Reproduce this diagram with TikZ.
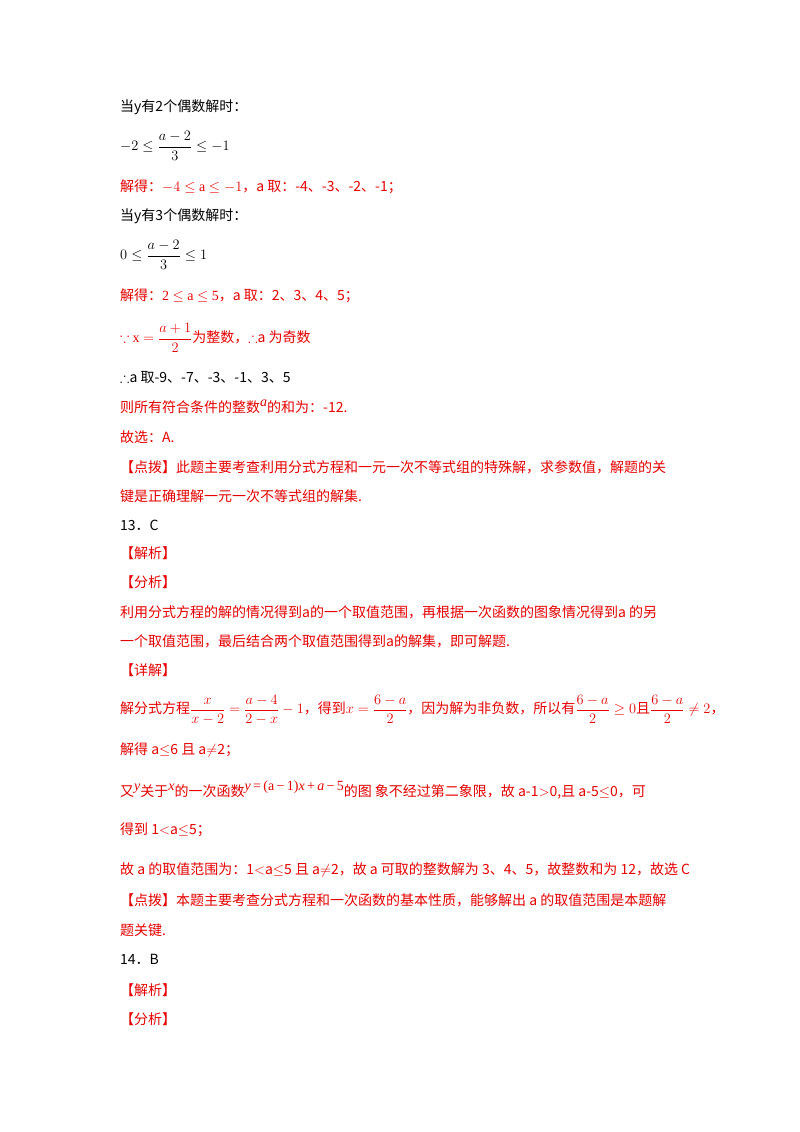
\documentclass[tikz,border=0pt]{standalone}
\usepackage{amsmath,amssymb}
\usepackage{fontspec}
\setmainfont{Liberation Serif}
\newfontfamily\cjk{Noto Sans CJK SC}
\definecolor{rd}{RGB}{230,0,0}
\newcommand{\up}[1]{\raisebox{6pt}{\fontsize{14}{15}\selectfont\rmfamily #1}}
\begin{document}
\begin{tikzpicture}[x=1pt,y=-1pt,
  t/.style={anchor=west,inner sep=0pt,font=\fontsize{14}{17}\selectfont\cjk},
  r/.style={t,text=rd}]
\fill[white] (0,0) rectangle (800,1132);
\node[t] (l1) at (120,107) {当y有2个偶数解时：};
\node[t] (l2) at (120,146) {$-2\le\dfrac{a-2}{3}\le-1$};
\node[r] (l3) at (120,187) {解得：\rmfamily$-4\le$ a $\le-1$\cjk，a 取：-4、-3、-2、-1；};
\node[t] (l4) at (120,216) {当y有3个偶数解时：};
\node[t] (l5) at (120,255) {$0\le\dfrac{a-2}{3}\le1$};
\node[r] (l6) at (120,296) {解得：\rmfamily 2 $\le$ a $\le$ 5\cjk，a 取：2、3、4、5；};
\node[r] (l7) at (120,338) {$\because$ \rmfamily x $=\dfrac{a+1}{2}$\cjk 为整数，$\therefore$a 为奇数};
\node[t] (l8) at (120,378) {$\therefore$a 取-9、-7、-3、-1、3、5};
\node[r] (l9) at (120,407) {则所有符合条件的整数\up{\itshape a}的和为：-12.};
\node[r] (l10) at (120,437) {故选：A.};
\node[r] (l11) at (120,467) {【点拨】此题主要考查利用分式方程和一元一次不等式组的特殊解，求参数值，解题的关};
\node[r] (l12) at (120,496) {键是正确理解一元一次不等式组的解集.};
\node[t] (l13) at (120,525) {13．C};
\node[r] (l14) at (120,553) {【解析】};
\node[r] (l15) at (120,582) {【分析】};
\node[r] (l16) at (120,612) {利用分式方程的解的情况得到a的一个取值范围，再根据一次函数的图象情况得到a 的另};
\node[r] (l17) at (120,641) {一个取值范围，最后结合两个取值范围得到a的解集，即可解题.};
\node[r] (l18) at (120,670) {【详解】};
\node[r] (l19) at (120,710) {解分式方程$\dfrac{x}{x-2}=\dfrac{a-4}{2-x}-1$，得到$x=\dfrac{6-a}{2}$，因为解为非负数，所以有$\dfrac{6-a}{2}\ge0$且$\dfrac{6-a}{2}\ne2$，};
\node[r] (l20) at (120,750) {解得 a$\le$6 且 a$\ne$2；};
\node[r] (l21) at (120,790) {又\up{\itshape y}关于\up{\itshape x}的一次函数\up{\itshape y\upshape\,=\,(a\,−\,1)\itshape x\upshape\,+\,\itshape a\upshape\,−\,5}的图\ 象不经过第二象限，故 a-1$>$0,且 a-5$\le$0，可};
\node[r] (l22) at (120,830) {得到 1$<$a$\le$5；};
\node[r] (l23) at (120,870) {故 a 的取值范围为：1$<$a$\le$5 且 a$\ne$2，故 a 可取的整数解为 3、4、5，故整数和为 12，故选 C};
\node[r] (l24) at (120,900) {【点拨】本题主要考查分式方程和一次函数的基本性质，能够解出 a 的取值范围是本题解};
\node[r] (l25) at (120,930) {题关键.};
\node[t] (l26) at (120,959) {14．B};
\node[r] (l27) at (120,990) {【解析】};
\node[r] (l28) at (120,1019) {【分析】};
\end{tikzpicture}
\end{document}
